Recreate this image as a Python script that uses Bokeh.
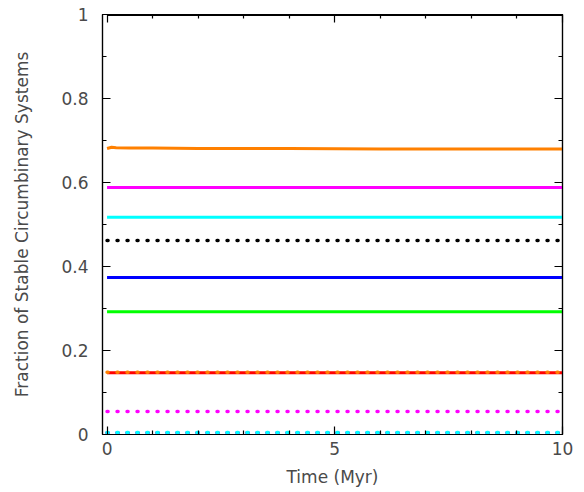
from bokeh.plotting import figure
from bokeh.models import LinearAxis, FixedTicker, Range1d, CustomJSTickFormatter
from bokeh.embed import file_html
from bokeh.resources import INLINE

# Time sampling (Myr)
time = [0.0, 0.1, 0.2, 0.5, 1.0, 2.0, 4.0, 6.0, 8.0, 10.0]

# Solid series
black_solid = [1.0, 1.0, 1.0, 1.0, 1.0, 1.0, 1.0, 1.0, 1.0, 1.0]
orange_solid = [0.681, 0.684, 0.683, 0.682, 0.682, 0.681, 0.681, 0.680, 0.680, 0.680]
magenta_solid = [0.588, 0.588, 0.588, 0.588, 0.588, 0.588, 0.588, 0.588, 0.588, 0.588]
cyan_solid = [0.517, 0.517, 0.517, 0.517, 0.517, 0.517, 0.517, 0.517, 0.517, 0.517]
blue_solid = [0.374, 0.374, 0.374, 0.374, 0.374, 0.374, 0.374, 0.374, 0.374, 0.374]
green_solid = [0.292, 0.292, 0.292, 0.292, 0.292, 0.292, 0.292, 0.292, 0.292, 0.292]
red_solid = [0.147, 0.147, 0.147, 0.147, 0.147, 0.147, 0.147, 0.147, 0.147, 0.147]

# Dotted series
black_dotted = [0.462, 0.462, 0.462, 0.462, 0.462, 0.462, 0.462, 0.462, 0.462, 0.462]
orange_dotted = [0.148, 0.148, 0.148, 0.148, 0.148, 0.148, 0.148, 0.148, 0.148, 0.148]
magenta_dotted = [0.055, 0.055, 0.055, 0.055, 0.055, 0.055, 0.055, 0.055, 0.055, 0.055]
blue_dotted = [0.004, 0.004, 0.004, 0.004, 0.004, 0.004, 0.004, 0.004, 0.004, 0.004]
cyan_dotted = [0.005, 0.005, 0.005, 0.005, 0.005, 0.005, 0.005, 0.005, 0.005, 0.005]

x_major = [0, 5, 10]
x_minor = [1, 2, 3, 4, 6, 7, 8, 9]
y_major = [0, 0.2, 0.4, 0.6, 0.8, 1.0]
y_minor = [0.1, 0.3, 0.5, 0.7, 0.9]
y_labels = {0: "0", 0.2: "0.2", 0.4: "0.4", 0.6: "0.6", 0.8: "0.8", 1.0: "1"}

FONT = "DejaVu Sans"
TXT = "#4a4a4a"
FS = "17px"

p = figure(width=584, height=492, output_backend="svg", toolbar_location=None,
           x_range=Range1d(-0.1, 10), y_range=Range1d(0, 1),
           min_border_left=102, min_border_right=22, min_border_top=14, min_border_bottom=58)
p.xgrid.visible = False
p.ygrid.visible = False
p.outline_line_color = "black"
p.outline_line_width = 1.2

xt = FixedTicker(ticks=x_major, minor_ticks=x_minor)
yt = FixedTicker(ticks=y_major, minor_ticks=y_minor)


def style_axis(ax, show_labels):
    ax.axis_line_color = "black"
    ax.axis_line_width = 1.2
    ax.major_tick_in = 8
    ax.major_tick_out = 0
    ax.minor_tick_in = 4
    ax.minor_tick_out = 0
    ax.major_tick_line_color = "black"
    ax.minor_tick_line_color = "black"
    ax.major_tick_line_width = 1.2
    ax.minor_tick_line_width = 1.2
    if show_labels:
        ax.major_label_text_font = FONT
        ax.major_label_text_font_size = FS
        ax.major_label_text_color = TXT
        ax.axis_label_text_font = FONT
        ax.axis_label_text_font_size = FS
        ax.axis_label_text_font_style = "normal"
        ax.axis_label_text_color = TXT
    else:
        ax.formatter = CustomJSTickFormatter(code="return ''")
        ax.major_label_standoff = 0


xa = p.xaxis[0]
xa.ticker = xt
xa.axis_label = "Time (Myr)"
style_axis(xa, True)
xa.major_label_standoff = 7
xa.axis_label_standoff = 9

ya = p.yaxis[0]
ya.ticker = yt
ya.axis_label = "Fraction of Stable Circumbinary Systems"
ya.major_label_overrides = y_labels
style_axis(ya, True)
ya.major_label_standoff = 14
ya.axis_label_standoff = 26

top = LinearAxis(ticker=FixedTicker(ticks=x_major, minor_ticks=x_minor))
style_axis(top, False)
p.add_layout(top, "above")
right = LinearAxis(ticker=FixedTicker(ticks=y_major, minor_ticks=y_minor))
style_axis(right, False)
p.add_layout(right, "right")

solid = [
    (black_solid, "black"),
    (orange_solid, "#FF8000"),
    (magenta_solid, "#FF00FF"),
    (cyan_solid, "#00FFFF"),
    (blue_solid, "#0000FF"),
    (green_solid, "#00FF00"),
    (red_solid, "#FF0000"),
]
for ys, c in solid:
    p.line(time, ys, line_color=c, line_width=3)

dotted = [
    (black_dotted, "black"),
    (orange_dotted, "#FF8000"),
    (magenta_dotted, "#FF00FF"),
    (blue_dotted, "#0000FF"),
    (cyan_dotted, "#00FFFF"),
]
for ys, c in dotted:
    p.line(time, ys, line_color=c, line_width=3.5, line_dash="1 9", line_cap="round")

open("out.html", "w").write(file_html(p, INLINE))
